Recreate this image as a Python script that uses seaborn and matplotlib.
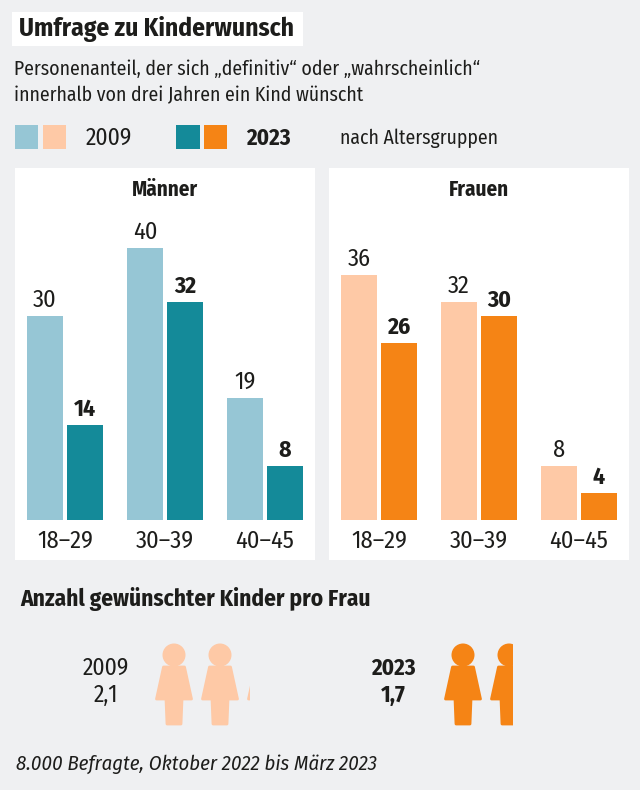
import matplotlib
matplotlib.use('Agg')
import matplotlib.pyplot as plt
import pandas as pd
import seaborn as sns
from matplotlib.patches import Circle, Polygon, Rectangle

# --- DATA ---
age_groups = ['18–29', '30–39', '40–45']
years = ['2009', '2023']
men_2009 = [30, 40, 18]  # the bar is drawn at 18 in the original, printed label says 19
men_2009_labels = ['30', '40', '19']
men_2023 = [14, 32, 8]
women_2009 = [36, 32, 8]
women_2023 = [26, 30, 4]
kids_years = ['2009', '2023']
kids_values = [2.1, 1.7]
kids_labels = ['2,1', '1,7']

BG = '#EFF0F2'
INK = '#1D1D1B'
men_colors = ['#96C6D5', '#148A99']
women_colors = ['#FEC9A6', '#F58415']

sns.set_theme(style='white')
plt.rcParams['font.family'] = ['Fira Sans Condensed', 'Roboto', 'DejaVu Sans']
plt.rcParams['text.color'] = INK


def make_frame(v2009, v2023):
    return pd.DataFrame({
        'age': age_groups * 2,
        'year': [years[0]] * 3 + [years[1]] * 3,
        'value': list(v2009) + list(v2023),
    })


fig = plt.figure(figsize=(6.4, 7.9), dpi=100, facecolor=BG)


def panel(left, right, top, bottom, baseline, title, df, colors, labels_2009=None):
    ax = fig.add_axes([left / 640, 1 - bottom / 790, (right - left) / 640, (bottom - top) / 790])
    sns.barplot(data=df, x='age', y='value', hue='year', hue_order=years, palette=colors,
                width=0.8, gap=0.1, saturation=1, legend=False, linewidth=0, ax=ax)
    ax.set_facecolor('white')
    ax.set_xlim(-0.5, 2.5)
    # 6.8 px per percentage point, zero line at the baseline pixel
    ax.set_ylim(-(bottom - baseline) / 6.8, (baseline - top) / 6.8)
    ax.set_xlabel('')
    ax.set_ylabel('')
    ax.set_yticks([])
    ax.tick_params(axis='x', length=0, pad=-22, labelsize=17.5, labelcolor=INK)
    sns.despine(ax=ax, left=True, bottom=True)
    ax.bar_label(ax.containers[0], labels=labels_2009, padding=3, fontsize=17.5, color=INK)
    ax.bar_label(ax.containers[1], padding=3, fontsize=17, fontweight='bold', color=INK)
    ax.set_title(title, fontsize=15.2, fontweight='bold', color=INK, y=1, pad=-20)
    return ax


panel(15, 315, 168, 560, 520, 'Männer', make_frame(men_2009, men_2023), men_colors, men_2009_labels)
panel(329, 629, 168, 560, 520, 'Frauen', make_frame(women_2009, women_2023), women_colors)

# overlay in pixel coordinates for header, legend, icons
ov = fig.add_axes([0, 0, 1, 1], facecolor='none')
ov.set_xlim(0, 640)
ov.set_ylim(790, 0)
ov.axis('off')

ov.add_patch(Rectangle((12, 12), 291, 34, color='white', lw=0))
ov.text(19, 29, 'Umfrage zu Kinderwunsch', fontsize=18.3, fontweight='bold', va='center')
ov.text(14, 69, 'Personenanteil, der sich „definitiv“ oder „wahrscheinlich“', fontsize=14.2, va='center')
ov.text(14, 95, 'innerhalb von drei Jahren ein Kind wünscht', fontsize=14.2, va='center')

ov.add_patch(Rectangle((15, 125), 23, 24, color=men_colors[0], lw=0))
ov.add_patch(Rectangle((43, 125), 23, 24, color=women_colors[0], lw=0))
ov.add_patch(Rectangle((176, 125), 24, 24, color=men_colors[1], lw=0))
ov.add_patch(Rectangle((204, 125), 23, 24, color=women_colors[1], lw=0))
ov.text(86, 138, '2009', fontsize=17, va='center')
ov.text(246, 138, '2023', fontsize=16.5, fontweight='bold', va='center')
ov.text(340, 138, 'nach Altersgruppen', fontsize=14.2, va='center')

ov.text(20, 599, 'Anzahl gewünschter Kinder pro Frau', fontsize=16.8, fontweight='bold', va='center')
ov.text(16, 764, '8.000 Befragte, Oktober 2022 bis März 2023', fontsize=14.8, style='italic', va='center')


def person(cx, color, clip_right):
    # head, dress and legs of the little figure, centred on cx
    clip = Rectangle((cx - 20, 640), clip_right - (cx - 20), 90, transform=ov.transData)
    round_edge = dict(facecolor=color, edgecolor=color, lw=2, joinstyle='round')
    parts = [
        Circle((cx, 655), 11.5, color=color, lw=0),
        Polygon([(cx - 10.5, 667), (cx + 10.5, 667), (cx + 17.5, 699), (cx - 17.5, 699)], **round_edge),
        Polygon([(cx - 8, 699), (cx + 8, 699), (cx + 7, 724), (cx - 7, 724)], **round_edge),
    ]
    for part in parts:
        ov.add_patch(part)
        part.set_clip_path(clip)


def person_row(first_x, value, color):
    i = 0
    while value > 0.001:
        share = min(value, 1)
        cx = first_x + i * 46
        # the fraction is cut on a 33 px slot, full figures stay whole
        person(cx, color, cx + 20 if share == 1 else cx - 19 + 33 * share)
        value -= share
        i += 1


ov.text(106, 668, kids_years[0], fontsize=17, ha='center', va='center')
ov.text(106, 695, kids_labels[0], fontsize=17, ha='center', va='center')
person_row(174, kids_values[0], women_colors[0])

ov.text(393, 668, kids_years[1], fontsize=16.5, fontweight='bold', ha='center', va='center')
ov.text(393, 695, kids_labels[1], fontsize=16.5, fontweight='bold', ha='center', va='center')
person_row(463, kids_values[1], women_colors[1])

fig.savefig('out.png', dpi=100, facecolor=BG)
